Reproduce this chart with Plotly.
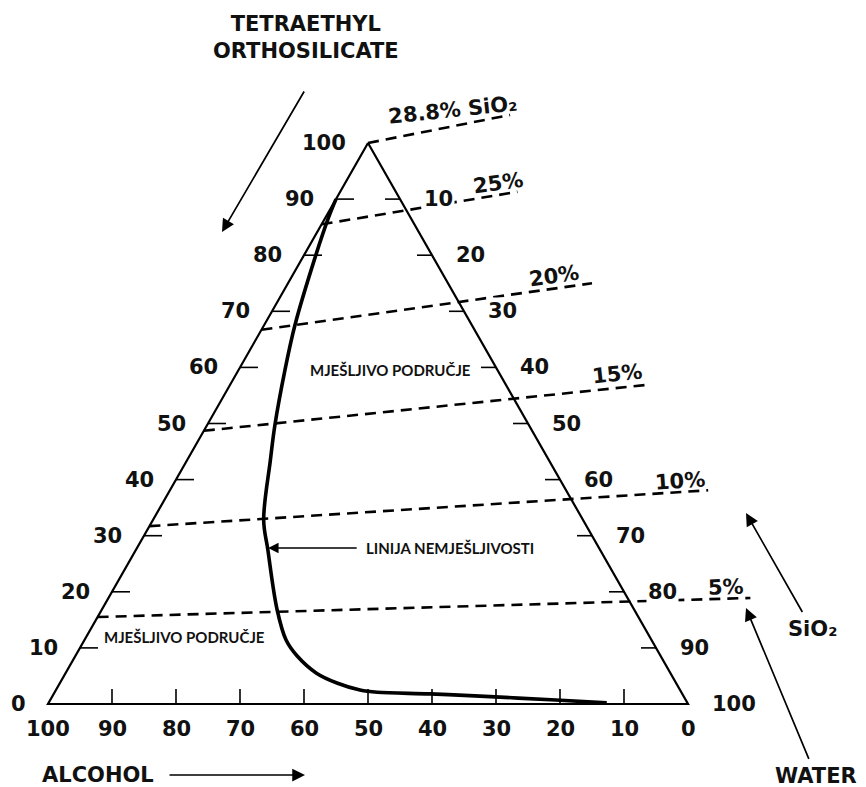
import plotly.graph_objects as go

# ---------------- data (wt %) ----------------
teos_ticks = [0, 10, 20, 30, 40, 50, 60, 70, 80, 90, 100]          # left edge labels
alcohol_ticks = [100, 90, 80, 70, 60, 50, 40, 30, 20, 10, 0]       # bottom edge labels
water_ticks = [10, 20, 30, 40, 50, 60, 70, 80, 90, 100]            # right edge labels
inner_ticks = [10, 20, 30, 40, 50, 60, 70, 80, 90]                 # tick marks

# immiscibility boundary (TEOS, alcohol, water)
curve_teos = [90.0, 86.6, 79.3, 67.6, 59.4, 49.7, 43.5, 32.8, 27.5, 16.8,
              11.4, 8.6, 5.5, 3.7, 2.5, 2.1, 1.8, 1.4, 0.7, 0.2]
curve_alcohol = [10.0, 12.9, 18.7, 27.6, 33.3, 39.7, 43.5, 49.9, 51.9, 55.8,
                 57.1, 56.8, 55.3, 52.9, 50.0, 47.5, 39.4, 31.8, 20.3, 12.6]
curve_water = [0.0, 0.5, 2.0, 4.8, 7.3, 10.6, 13.0, 17.3, 20.6, 27.4,
               31.5, 34.6, 39.2, 43.4, 47.5, 50.4, 58.8, 66.8, 79.0, 87.2]

# iso-SiO2 lines: start and end compositions (end lies beyond the diagram)
sio2_labels = ["28.8% SiO₂", "25%", "20%", "15%", "10%", "5%"]
sio2_start_teos = [100.0, 85.5, 66.7, 48.7, 31.7, 15.5]
sio2_start_alcohol = [0.0, 14.5, 33.3, 51.3, 68.3, 84.5]
sio2_start_water = [0.0, 0.0, 0.0, 0.0, 0.0, 0.0]
sio2_end_teos = [105.0, 91.3, 75.0, 56.9, 38.1, 18.9]
sio2_end_alcohol = [-24.7, -19.0, -22.5, -22.2, -22.2, -19.2]
sio2_end_water = [19.7, 27.7, 47.5, 65.3, 84.1, 100.3]

# region labels (TEOS, alcohol, water)
miscible_upper = (59.5, 16.8, 23.7)
miscible_lower = (11.9, 72.8, 15.3)
boundary_pointer = (27.8, 51.7, 20.5)

# ---------------- styling / layout constants ----------------
OFF = 8                          # page body margin
W, H = 866 - OFF, 787 - OFF      # figure size
X0_PX, X_SCALE = 48.0, 6.4       # window pixel of x=0, pixels per unit
Y0_PX, Y_SCALE = 704.0, 5.61     # window pixel of teos=0, pixels per unit
BOLD = dict(family="DejaVu Sans", size=21, color="#111111", weight="bold")
SMALL = dict(family="Lato", size=15, color="#111111", weight="bold")
ARROW = dict(arrowhead=2, arrowsize=1.5, arrowwidth=1.7, arrowcolor="black")


def to_xy(a, b, c):
    """ternary (TEOS, alcohol, water) -> cartesian plotting coordinates"""
    s = a + b + c
    return 100.0 * (c + a / 2.0) / s, 100.0 * a / s


def paper(px, py):
    return (px - OFF) / W, 1 - (py - OFF) / H


fig = go.Figure()

# triangle frame
corners = [(100, 0, 0), (0, 100, 0), (0, 0, 100), (100, 0, 0)]
fx, fy = zip(*[to_xy(*p) for p in corners])
fig.add_trace(go.Scatter(x=fx, y=fy, mode="lines",
                         line=dict(color="black", width=2.2), hoverinfo="skip"))

# tick marks
lt = 18 / X_SCALE
rt = 15 / X_SCALE
bt = 15 / Y_SCALE
tx, ty = [], []
for v in inner_ticks:
    x, y = to_xy(v, 100 - v, 0)          # left edge, TEOS = v
    tx += [x, x + lt, None]; ty += [y, y, None]
    x, y = to_xy(100 - v, 0, v)          # right edge, water = v
    tx += [x, x - rt, None]; ty += [y, y, None]
    x, y = to_xy(0, v, 100 - v)          # bottom edge, alcohol = v
    tx += [x, x, None]; ty += [y, y + bt, None]
fig.add_trace(go.Scatter(x=tx, y=ty, mode="lines",
                         line=dict(color="black", width=1.6), hoverinfo="skip"))

# iso-SiO2 dashed lines
for i in range(len(sio2_labels)):
    x1, y1 = to_xy(sio2_start_teos[i], sio2_start_alcohol[i], sio2_start_water[i])
    x2, y2 = to_xy(sio2_end_teos[i], sio2_end_alcohol[i], sio2_end_water[i])
    fig.add_trace(go.Scatter(x=[x1, x2], y=[y1, y2], mode="lines",
                             line=dict(color="black", width=2.6, dash="11px,7px"),
                             hoverinfo="skip"))

# immiscibility curve
cx, cy = zip(*[to_xy(a, b, c) for a, b, c in zip(curve_teos, curve_alcohol, curve_water)])
fig.add_trace(go.Scatter(x=cx, y=cy, mode="lines",
                         line=dict(color="black", width=3.6, shape="spline", smoothing=1.0),
                         hoverinfo="skip"))

ann = []
# tick labels
for v in teos_ticks:
    x, y = to_xy(v, 100 - v, 0)
    ann.append(dict(x=x, y=y, text=str(v), showarrow=False, xanchor="right",
                    yanchor="middle", xshift=-20, font=BOLD))
for v in alcohol_ticks:
    x, y = to_xy(0, v, 100 - v)
    ann.append(dict(x=x, y=y, text=str(v), showarrow=False, xanchor="center",
                    yanchor="middle", yshift=-25, font=BOLD))
for v in water_ticks:
    x, y = to_xy(100 - v, 0, v)
    ann.append(dict(x=x, y=y, text=str(v), showarrow=False, xanchor="left",
                    yanchor="middle", xshift=22, font=BOLD, bgcolor="white"))

# iso-SiO2 labels
label_shift = [(-57, 5, -6), (-19, 9, -8), (-38, 7, -8), (-31, 11, -6), (-28, 9, -4), (-24, 11, -2)]
for i, lab in enumerate(sio2_labels):
    x, y = to_xy(sio2_end_teos[i], sio2_end_alcohol[i], sio2_end_water[i])
    dx, dy, ang = label_shift[i]
    ann.append(dict(x=x, y=y, text=lab, showarrow=False, xanchor="center",
                    yanchor="middle", xshift=dx, yshift=dy, textangle=ang, font=BOLD))

# region labels
x, y = to_xy(*miscible_upper)
ann.append(dict(x=x, y=y, text="MJEŠLJIVO PODRUČJE", showarrow=False, font=SMALL,
                xanchor="center", yanchor="middle"))
x, y = to_xy(*miscible_lower)
ann.append(dict(x=x, y=y, text="MJEŠLJIVO PODRUČJE", showarrow=False, font=SMALL,
                xanchor="center", yanchor="middle"))
x, y = to_xy(*boundary_pointer)
ann.append(dict(x=x, y=y, text="LINIJA NEMJEŠLJIVOSTI", showarrow=True, ax=182, ay=0,
                font=SMALL, arrowhead=2, arrowsize=1.3, arrowwidth=1.6,
                arrowcolor="black", standoff=0, startstandoff=8))


def paper_text(px, py, text, xanchor="center"):
    x, y = paper(px, py)
    return dict(xref="paper", yref="paper", x=x, y=y, text=text, showarrow=False,
                xanchor=xanchor, yanchor="middle", font=BOLD, align="center")


def paper_arrow(px, py, ax, ay, text="", gap=0):
    """arrow pointing at window pixel (px, py); its label (if any) sits at the tail"""
    x, y = paper(px, py)
    return dict(xref="paper", yref="paper", x=x, y=y, text=text, showarrow=True,
                ax=ax, ay=ay, font=BOLD, startstandoff=gap, **ARROW)


# component titles and direction arrows
ann.append(paper_text(306, 38, "TETRAETHYL<br>ORTHOSILICATE"))
ann.append(paper_arrow(222, 232, 83, -142))
ann.append(paper_arrow(305, 775, -207, 0, "ALCOHOL", gap=14))
ann.append(paper_arrow(746, 608, 70, 168, "WATER", gap=4))
ann.append(paper_arrow(746, 513, 66, 116, "SiO₂", gap=4))

xr = [-(X0_PX - OFF) / X_SCALE, (W - (X0_PX - OFF)) / X_SCALE]
yr = [(Y0_PX - 787) / Y_SCALE, (Y0_PX - OFF) / Y_SCALE]
fig.update_layout(
    width=W, height=H, margin=dict(l=0, r=0, t=0, b=0),
    paper_bgcolor="white", plot_bgcolor="white", showlegend=False,
    xaxis=dict(range=xr, visible=False, fixedrange=True),
    yaxis=dict(range=yr, visible=False, fixedrange=True),
    annotations=ann,
)
fig.write_html("out.html")
